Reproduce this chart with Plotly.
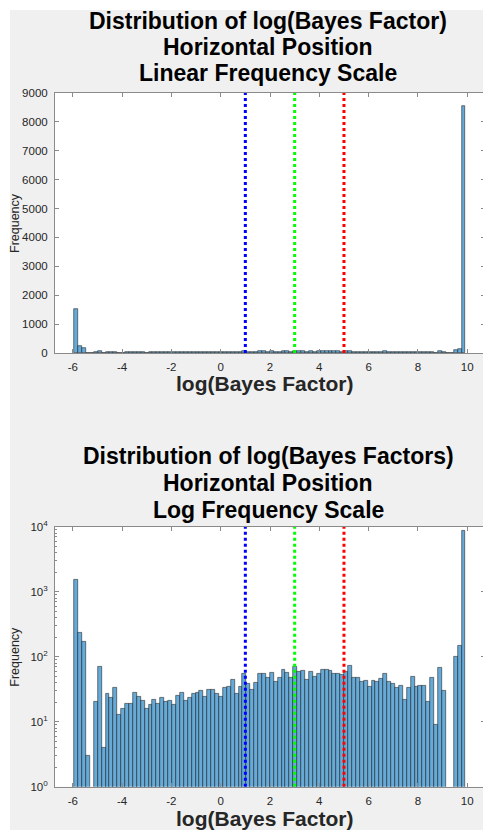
import plotly.graph_objects as go

# ---------------- data ----------------
bin_start = -5.94
bin_width = 0.15866
counts = [1540, 237, 173, 3, 0, 20, 69, 4, 27, 23,
          33, 13, 16, 19, 19, 28, 24, 21, 16, 18,
          22, 19, 23, 20, 21, 18, 25, 28, 21, 23,
          27, 28, 30, 24, 31, 31, 27, 24, 33, 34,
          45, 27, 34, 54, 38, 31, 40, 55, 54, 48,
          57, 41, 48, 62, 56, 48, 69, 58, 60, 45,
          59, 50, 55, 62, 62, 60, 54, 54, 52, 59,
          74, 48, 48, 41, 43, 34, 42, 41, 46, 54,
          41, 39, 33, 36, 22, 33, 49, 34, 36, 36,
          20, 47, 9, 67, 30, 0, 0, 101, 150, 8550]
xtick_vals = [-6, -4, -2, 0, 2, 4, 6, 8, 10]
xtick_text = ["-6", "-4", "-2", "0", "2", "4", "6", "8", "10"]
lin_ytick_vals = [0, 1000, 2000, 3000, 4000, 5000, 6000, 7000, 8000, 9000]
lin_ytick_text = ["0", "1000", "2000", "3000", "4000", "5000", "6000", "7000", "8000", "9000"]
log_ytick_vals = [1, 10, 100, 1000, 10000]
log_ytick_text = ["10<sup>0</sup>", "10<sup>1</sup>", "10<sup>2</sup>", "10<sup>3</sup>", "10<sup>4</sup>"]
thresholds = [1, 3, 5]
threshold_colors = ["#0000ff", "#00ff00", "#ff0000"]
title_top = ["Distribution of log(Bayes Factor)", "Horizontal Position", "Linear Frequency Scale"]
title_bottom = ["Distribution of log(Bayes Factors)", "Horizontal Position", "Log Frequency Scale"]
xlabel = "log(Bayes Factor)"
ylabel = "Frequency"

# ---------------- geometry (pixels) ----------------
W, H = 492, 840
FONT = "Liberation Sans, Arial, Helvetica, sans-serif"
AX_L, AX_R = 55, 485
TOP_T, TOP_B = 93, 353
BOT_T, BOT_B = 526.7, 786.7


def px(x):
    return x / W


def py(y):
    return 1 - y / H


centers = [bin_start + (i + 0.5) * bin_width for i in range(len(counts))]
log_counts = [c if c > 0 else None for c in counts]

bar_fill = "rgb(102,170,215)"
bar_edge = "rgba(25,25,25,0.9)"

fig = go.Figure()
fig.add_trace(go.Bar(x=centers, y=counts, width=bin_width, xaxis="x", yaxis="y",
                     marker=dict(color=bar_fill, line=dict(color=bar_edge, width=0.6)),
                     showlegend=False, hoverinfo="skip"))
fig.add_trace(go.Bar(x=centers, y=log_counts, width=bin_width, xaxis="x2", yaxis="y2",
                     marker=dict(color=bar_fill, line=dict(color=bar_edge, width=0.6)),
                     showlegend=False, hoverinfo="skip"))
for t, c in zip(thresholds, threshold_colors):
    fig.add_trace(go.Scatter(x=[t, t], y=[0, 9000], mode="lines", xaxis="x", yaxis="y",
                             line=dict(color=c, width=3, dash="3px,3px"),
                             showlegend=False, hoverinfo="skip", cliponaxis=True))
    fig.add_trace(go.Scatter(x=[t, t], y=[1, 10000], mode="lines", xaxis="x2", yaxis="y2",
                             line=dict(color=c, width=3, dash="3px,3px"),
                             showlegend=False, hoverinfo="skip", cliponaxis=True))

axis_common = dict(showline=True, linecolor="#8a8a8a", linewidth=1, mirror="ticks",
                   ticks="inside", ticklen=4, tickwidth=1, tickcolor="#8a8a8a",
                   showgrid=False, zeroline=False, fixedrange=True,
                   tickfont=dict(family=FONT, size=11.5, color="#262626"))

minor_vals = []
for d in [1, 10, 100, 1000]:
    for m in range(2, 10):
        minor_vals.append(m * d)

fig.update_layout(
    width=W, height=H,
    margin=dict(l=0, r=0, t=0, b=0, pad=0, autoexpand=False),
    paper_bgcolor="#f0f0f0", plot_bgcolor="#ffffff",
    bargap=0, barmode="overlay",
    xaxis=dict(domain=[px(AX_L), px(AX_R)], range=[-6.72, 10.72], anchor="y",
               tickmode="array", tickvals=xtick_vals, ticktext=xtick_text,
               ticklabelstandoff=3, **axis_common),
    yaxis=dict(domain=[py(TOP_B), py(TOP_T)], range=[0, 9000], anchor="x",
               tickmode="array", tickvals=lin_ytick_vals, ticktext=lin_ytick_text,
               ticklabelstandoff=4, **axis_common),
    xaxis2=dict(domain=[px(AX_L), px(AX_R)], range=[-6.72, 10.72], anchor="y2",
                tickmode="array", tickvals=xtick_vals, ticktext=xtick_text,
                ticklabelstandoff=3, **axis_common),
    yaxis2=dict(domain=[py(BOT_B), py(BOT_T)], type="log", range=[0, 4], anchor="x2",
                tickmode="array", tickvals=log_ytick_vals, ticktext=log_ytick_text,
                ticklabelstandoff=4,
                minor=dict(tickmode="array", tickvals=minor_vals, ticks="inside",
                           ticklen=2, tickcolor="#8a8a8a", showgrid=False),
                **axis_common),
    shapes=[
        dict(type="rect", xref="paper", yref="paper", x0=0, x1=px(10), y0=0, y1=1,
             fillcolor="#ffffff", line=dict(width=0), layer="below"),
        dict(type="rect", xref="paper", yref="paper", x0=0, x1=1, y0=py(10), y1=1,
             fillcolor="#ffffff", line=dict(width=0), layer="below"),
    ],
)

title_cx = px(268)
label_cx = px(264)
ann = []
for lines, ys, xl_y, top in [(title_top, [20.5, 47, 73], 384, TOP_T),
                             (title_bottom, [456, 483, 510], 818, BOT_T)]:
    for s, yy in zip(lines, ys):
        ann.append(dict(text="<b>%s</b>" % s, xref="paper", yref="paper", x=title_cx,
                        y=py(yy), xanchor="center", yanchor="middle",
                        showarrow=False, font=dict(family=FONT, size=23, color="#000000")))
    ann.append(dict(text="<b>%s</b>" % xlabel, xref="paper", yref="paper", x=label_cx,
                    y=py(xl_y), xanchor="center", yanchor="middle", showarrow=False,
                    font=dict(family=FONT, size=21, color="#262626")))
    ann.append(dict(text=ylabel, xref="paper", yref="paper", x=px(15),
                    y=py(top + 130), xanchor="center", yanchor="middle", textangle=-90,
                    showarrow=False, font=dict(family=FONT, size=12.5, color="#262626")))
fig.update_layout(annotations=ann)

fig.write_html("out.html", config={"displayModeBar": False},
               post_script="document.documentElement.style.overflow='hidden';"
                           "document.body.style.overflow='hidden';"
                           "document.body.style.margin='0';")
